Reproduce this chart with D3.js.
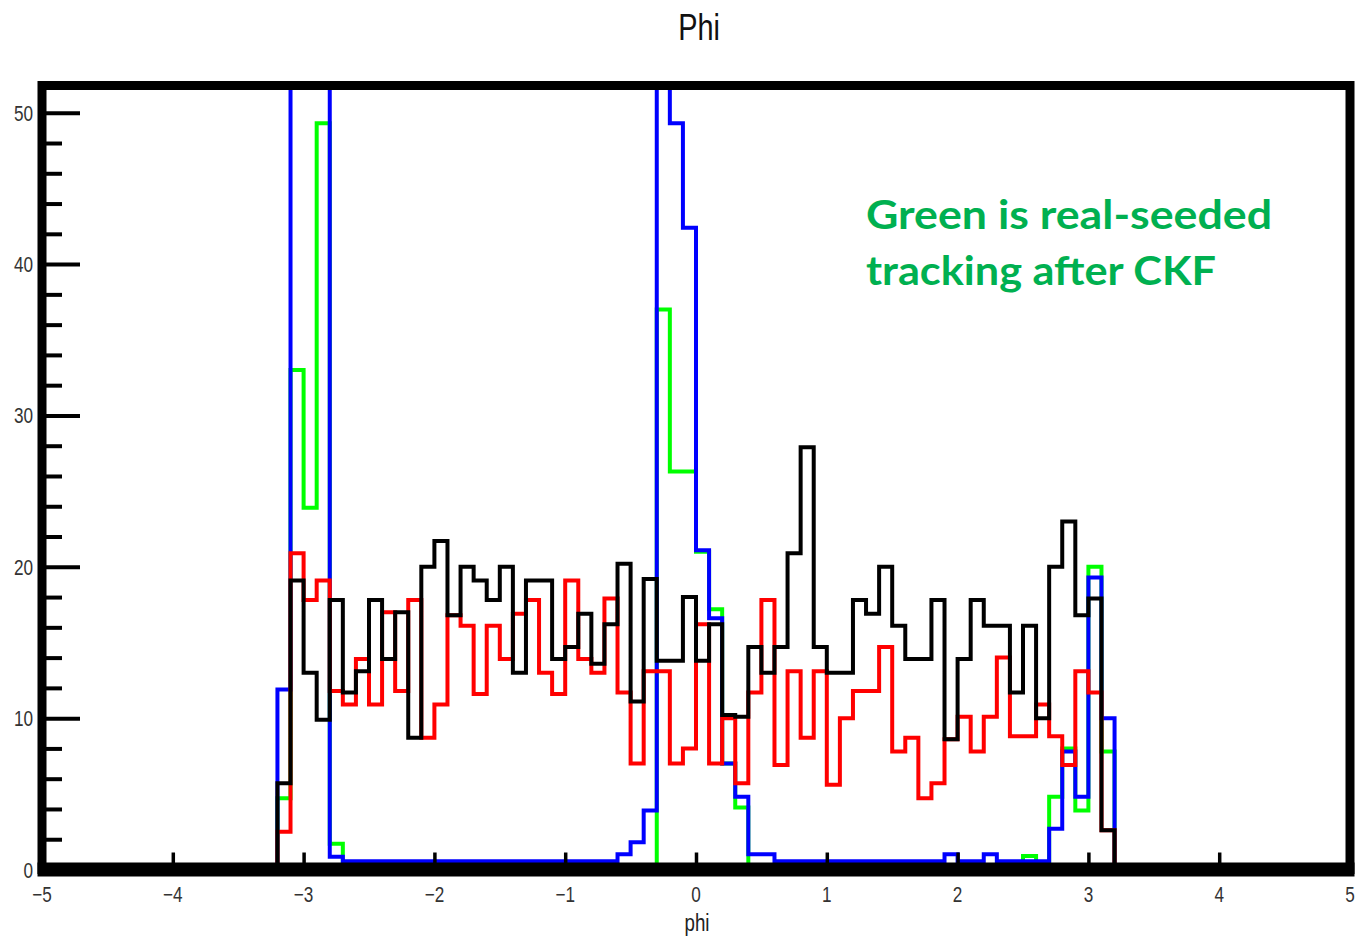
<!DOCTYPE html>
<html>
<head>
<meta charset="utf-8">
<script src="https://cdn.jsdelivr.net/npm/d3@7"></script>
<style>
  body { margin: 0; background: #fff; }
  svg { display: block; }
</style>
</head>
<body>
<svg id="chart" width="1355" height="936"></svg>
<script>
// Histogram binning: 64 bins of 0.1 from -3.2 to 3.2
const binLow = -3.2;
const binWidth = 0.1;

// Bin contents per bin, left to right
const greenCounts = [4.7, 33, 23.9, 49.3, 1.7,
  0, 0, 0, 0, 0, 0, 0, 0, 0, 0, 0, 0, 0, 0, 0, 0, 0, 0, 0, 0, 0, 0, 0,
  0.3, 37, 26.3, 26.3, 21, 17.2, 7, 4.1,
  0, 0, 0, 0, 0, 0, 0, 0, 0, 0, 0, 0, 0, 0, 0, 0, 0, 0, 0, 0, 0,
  0.9, 0.4, 4.8, 8, 3.9, 20, 7.8];

const blueCounts = [11.9, 58, 95, 70, 0.85,
  0.55, 0.55, 0.55, 0.55, 0.55, 0.55, 0.55, 0.55, 0.55, 0.55, 0.55,
  0.55, 0.55, 0.55, 0.55, 0.55, 0.55, 0.55, 0.55, 0.55, 0.55,
  1, 1.8, 3.9, 75, 49.3, 42.4, 21.1, 16.6, 7, 4.8, 1, 1,
  0.55, 0.55, 0.55, 0.55, 0.55, 0.55, 0.55, 0.55, 0.55, 0.55, 0.55, 0.55, 0.55,
  1, 0.55, 0.55, 1, 0.55, 0.55, 0.55, 0.55, 2.7, 7.8, 4.8, 19.3, 10];

const redCounts = [2.5, 20.9, 17.8, 19.1, 11.8, 10.9, 13.9, 10.9, 17, 11.8,
  17.8, 8.7, 10.9, 16.8, 16.1, 11.6, 16.1, 13.9, 16.9, 17.8,
  13, 11.6, 19.1, 13.9, 13, 17.9, 11.7, 7, 13.1, 13.1,
  7, 8, 16.2, 7, 10, 5.7, 11.7, 17.8, 6.9, 13.1,
  8.7, 13.1, 5.6, 10, 11.8, 11.8, 14.7, 7.8, 8.7, 4.7,
  5.7, 8.6, 10.1, 7.8, 10.1, 14, 8.8, 8.8, 10.9, 8.8,
  6.9, 13.1, 11.7, 2.6];

const blackCounts = [5.7, 19.1, 13, 9.9, 17.8, 11.7, 13.1, 17.8, 13.9, 17,
  8.7, 20, 21.7, 16.8, 20, 19.1, 17.8, 20, 13, 19.1,
  19.1, 13.9, 14.7, 16.9, 13.6, 16.2, 20.2, 11.1, 19.2, 13.8,
  13.8, 18, 13.8, 16.2, 10.2, 10.1, 14.7, 13, 14.7, 20.9,
  27.9, 14.7, 13, 13, 17.8, 16.9, 20, 16.1, 13.9, 13.9,
  17.8, 8.6, 13.9, 17.8, 16.1, 16.1, 11.7, 16.1, 10, 20,
  23, 16.8, 17.9, 2.6];

// Axis ticks and texts
const xTickValues = [-5, -4, -3, -2, -1, 0, 1, 2, 3, 4, 5];
const yMajorTicks = [0, 10, 20, 30, 40, 50];
const yMinorTicks = [2, 4, 6, 8, 12, 14, 16, 18, 22, 24, 26, 28, 32, 34, 36, 38, 42, 44, 46, 48];
const chartTitle = "Phi";
const xAxisTitle = "phi";
const noteLines = ["Green is real-seeded", "tracking after CKF"];

// Draw order and colours of the four histograms
const seriesList = [
  { name: "green", counts: greenCounts, color: "#00ff00" },
  { name: "blue",  counts: blueCounts,  color: "#0000ff" },
  { name: "red",   counts: redCounts,   color: "#ff0000" },
  { name: "black", counts: blackCounts, color: "#000000" }
];

const svg = d3.select("#chart");
const yMax = 51.8;
const x = d3.scaleLinear().domain([-5, 5]).range([42, 1350]);
const y = d3.scaleLinear().domain([0, yMax]).range([869.5, 85.5]);

const fontRoot = "'Liberation Sans', Arial, Helvetica, sans-serif";
const squeeze = 0.78;

svg.append("rect").attr("width", 1355).attr("height", 936).attr("fill", "#fff");

// Clip to the frame interior
svg.append("defs").append("clipPath").attr("id", "frameClip")
  .append("rect")
  .attr("x", x(-5)).attr("y", y(yMax))
  .attr("width", x(5) - x(-5)).attr("height", y(0) - y(yMax));

// Step outline of one histogram: starts and ends on the zero line
function stepPoints(counts) {
  const pts = [[binLow, 0]];
  counts.forEach((c, i) => {
    const lo = binLow + i * binWidth;
    const hi = binLow + (i + 1) * binWidth;
    pts.push([lo, c]);
    pts.push([hi, c]);
  });
  pts.push([binLow + counts.length * binWidth, 0]);
  return pts;
}

const line = d3.line().x(d => x(d[0])).y(d => y(d[1]));

const plot = svg.append("g").attr("clip-path", "url(#frameClip)");
plot.selectAll("path.hist")
  .data(seriesList)
  .join("path")
  .attr("class", "hist")
  .attr("d", s => line(stepPoints(s.counts)))
  .attr("fill", "none")
  .attr("stroke", s => s.color)
  .attr("stroke-width", 4)
  .attr("stroke-linejoin", "miter");

// Y axis ticks (pointing into the frame)
const yMajorAxis = d3.axisRight(y).tickValues(yMajorTicks).tickSize(38).tickFormat("");
const yMinorAxis = d3.axisRight(y).tickValues(yMinorTicks).tickSize(20).tickFormat("");
[yMajorAxis, yMinorAxis].forEach(ax => {
  const g = svg.append("g").attr("transform", `translate(${x(-5)},0)`).call(ax);
  g.select(".domain").remove();
  g.selectAll(".tick line").attr("stroke", "#000").attr("stroke-width", 4);
});

// X axis ticks (pointing up into the frame)
const xAxis = d3.axisTop(x).tickValues(xTickValues).tickSize(17).tickFormat("");
const gx = svg.append("g").attr("transform", `translate(0,${y(0)})`).call(xAxis);
gx.select(".domain").remove();
gx.selectAll(".tick line").attr("stroke", "#000").attr("stroke-width", 3.5);

// Frame
svg.append("rect")
  .attr("x", x(-5)).attr("y", y(yMax))
  .attr("width", x(5) - x(-5)).attr("height", y(0) - y(yMax))
  .attr("fill", "none").attr("stroke", "#000").attr("stroke-width", 9);
svg.append("line")
  .attr("x1", x(-5) - 4.5).attr("x2", x(5) + 4.5)
  .attr("y1", y(0)).attr("y2", y(0))
  .attr("stroke", "#000").attr("stroke-width", 14);

// Helper for horizontally condensed labels
function squeezedText(px, py, txt, size, anchor, color) {
  svg.append("g").attr("transform", `translate(${px},${py})`)
    .append("text")
    .attr("transform", `scale(${squeeze},1)`)
    .attr("text-anchor", anchor)
    .attr("font-family", fontRoot)
    .attr("font-size", size)
    .attr("fill", color)
    .text(txt);
}

const fmt = v => (v < 0 ? "\u2212" + Math.abs(v) : String(v));

yMajorTicks.forEach(v => squeezedText(33, y(v) + 8, fmt(v), 22, "end", "#333"));
xTickValues.forEach(v => squeezedText(x(v), 902, fmt(v), 22, "middle", "#333"));

squeezedText(697, 931, xAxisTitle, 24, "middle", "#222");
squeezedText(699, 40, chartTitle, 37, "middle", "#111");

// Annotation
const noteWidths = [406, 350];
noteLines.forEach((t, i) => {
  svg.append("text")
    .attr("x", 866).attr("y", 229 + i * 56)
    .attr("font-family", "Lato, 'Open Sans', sans-serif")
    .attr("font-weight", 700)
    .attr("font-size", 40)
    .attr("fill", "#00b050")
    .attr("textLength", noteWidths[i])
    .attr("lengthAdjust", "spacingAndGlyphs")
    .text(t);
});
</script>
</body>
</html>
